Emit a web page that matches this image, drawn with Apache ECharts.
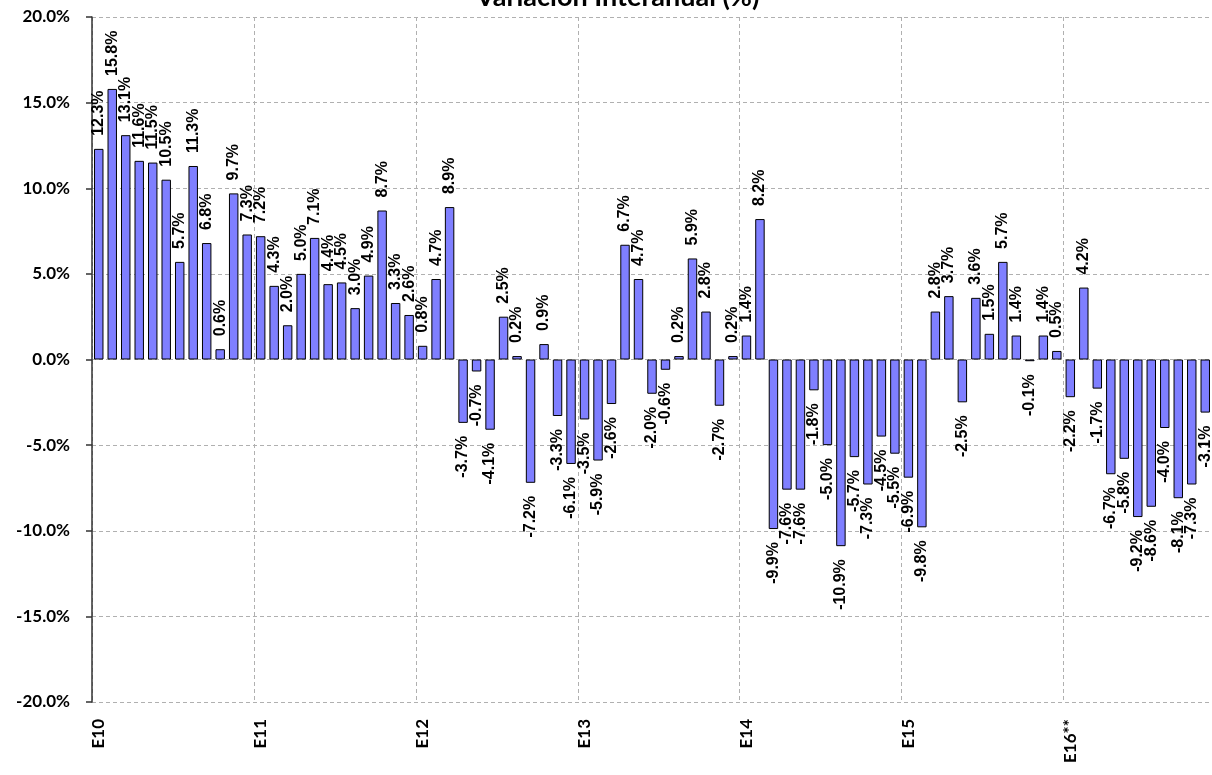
<!DOCTYPE html>
<html>
<head>
<meta charset="utf-8">
<script src="https://cdn.jsdelivr.net/npm/echarts@6/dist/echarts.min.js"></script>
<style>
  html, body { margin: 0; padding: 0; background: #fff; }
  #chart { width: 1212px; height: 775px; }
</style>
</head>
<body>
<div id="chart"></div>
<script>
// ---- data ----
const yearLabels = ['E10', 'E11', 'E12', 'E13', 'E14', 'E15', 'E16**'];
const monthLetters = ['E', 'F', 'M', 'A', 'M', 'J', 'J', 'A', 'S', 'O', 'N', 'D'];
const values2010 = [12.3, 15.8, 13.1, 11.6, 11.5, 10.5, 5.7, 11.3, 6.8, 0.6, 9.7, 7.3];
const values2011 = [7.2, 4.3, 2.0, 5.0, 7.1, 4.4, 4.5, 3.0, 4.9, 8.7, 3.3, 2.6];
const values2012 = [0.8, 4.7, 8.9, -3.7, -0.7, -4.1, 2.5, 0.2, -7.2, 0.9, -3.3, -6.1];
const values2013 = [-3.5, -5.9, -2.6, 6.7, 4.7, -2.0, -0.6, 0.2, 5.9, 2.8, -2.7, 0.2];
const values2014 = [1.4, 8.2, -9.9, -7.6, -7.6, -1.8, -5.0, -10.9, -5.7, -7.3, -4.5, -5.5];
const values2015 = [-6.9, -9.8, 2.8, 3.7, -2.5, 3.6, 1.5, 5.7, 1.4, -0.1, 1.4, 0.5];
const values2016 = [-2.2, 4.2, -1.7, -6.7, -5.8, -9.2, -8.6, -4.0, -8.1, -7.3, -3.1];
const yearValues = [values2010, values2011, values2012, values2013, values2014, values2015, values2016];

// build categories and series
const categories = [];
const values = [];
yearValues.forEach((arr, y) => {
  arr.forEach((v, m) => {
    categories.push(m === 0 ? yearLabels[y] : monthLetters[m] + yearLabels[y].slice(1, 3));
    values.push(v);
  });
});

const labelFont = { fontFamily: 'Liberation Sans', fontWeight: 'bold', fontSize: 16, color: '#000' };
const seriesData = values.map(v => ({
  value: v,
  label: v >= 0
    ? Object.assign({ position: 'top', align: 'left', verticalAlign: 'middle' }, labelFont)
    : Object.assign({ position: 'bottom', align: 'right', verticalAlign: 'middle' }, labelFont)
}));

const chart = echarts.init(document.getElementById('chart'), null, { renderer: 'canvas' });
chart.setOption({
  animation: false,
  backgroundColor: '#fff',
  title: {
    text: 'Variación Interanual (%)',
    left: 471,
    top: -21,
    textStyle: { fontFamily: 'Lato', fontWeight: 'bold', fontSize: 27, color: '#000' }
  },
  grid: { left: 92, right: 0, top: 17, bottom: 73, containLabel: false },
  xAxis: {
    type: 'category',
    data: categories,
    boundaryGap: true,
    axisLine: { show: false },
    axisTick: { show: false },
    axisLabel: {
      interval: 11,
      rotate: 90,
      margin: 17,
      fontFamily: 'Lato',
      fontWeight: 'bold',
      fontSize: 17,
      color: '#000'
    },
    splitLine: {
      show: true,
      interval: 11,
      lineStyle: { color: '#b0b0b0', type: [4, 3], width: 1 }
    }
  },
  yAxis: {
    type: 'value',
    min: -20,
    max: 20,
    interval: 5,
    axisLine: { show: true, lineStyle: { color: '#333', width: 1.5 } },
    axisTick: { show: true, length: 6, lineStyle: { color: '#333', width: 1.5 } },
    axisLabel: {
      formatter: v => v.toFixed(1) + '%',
      margin: 22,
      fontFamily: 'Lato',
      fontWeight: 'bold',
      fontSize: 17,
      color: '#000'
    },
    splitLine: { show: true, lineStyle: { color: '#b0b0b0', type: [4, 3], width: 1 } }
  },
  series: [{
    type: 'bar',
    data: seriesData,
    barCategoryGap: '30%',
    itemStyle: { color: '#7f7fff', borderColor: '#000', borderWidth: 1 },
    label: {
      show: true,
      rotate: 90,
      distance: 13,
      formatter: p => p.value.toFixed(1) + '%'
    }
  }]
});
</script>
</body>
</html>
